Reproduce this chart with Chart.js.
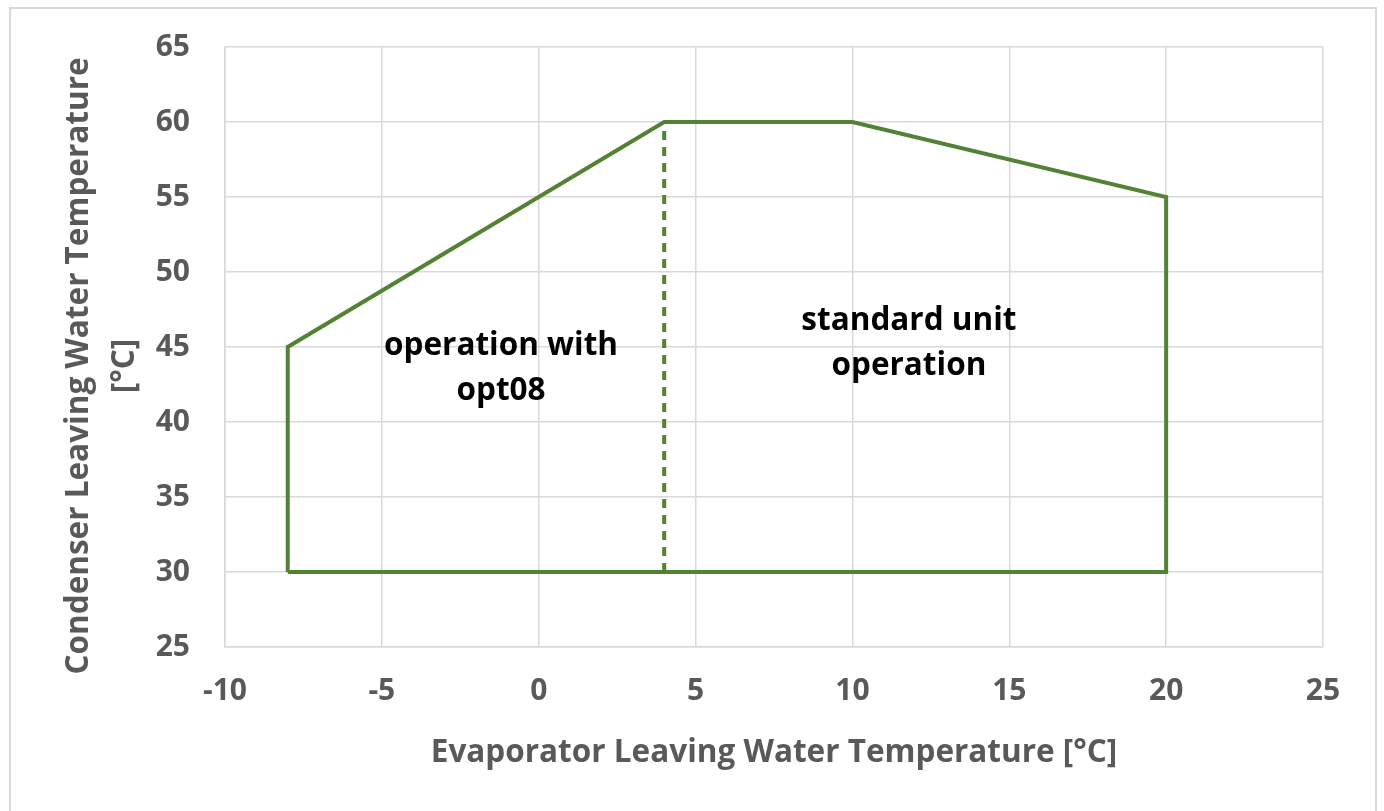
<!DOCTYPE html>
<html>
<head>
<meta charset="utf-8">
<script src="https://cdn.jsdelivr.net/npm/chart.js@4.4.1/dist/chart.umd.min.js"></script>
<style>
  html, body { margin: 0; padding: 0; background: #fff; }
  #frame {
    position: absolute; left: 9px; top: 7px; width: 1368px; height: 820px;
    border: 2px solid #d9d9d9; box-sizing: border-box;
  }
  #wrap { position: absolute; left: 0; top: 0; width: 1384px; height: 811px; }
</style>
</head>
<body>
<div id="frame"></div>
<div id="wrap"><canvas id="envelopeChart" width="1384" height="811"></canvas></div>
<script>
// operating envelope outline
const envelopeX = [-8, -8, 4, 10, 20, 20, -8];
const envelopeY = [30, 45, 60, 60, 55, 30, 30];
// dashed divider between opt08 and standard area
const dividerX = [4, 4];
const dividerY = [30, 60];

const xTicks = [-10, -5, 0, 5, 10, 15, 20, 25];
const yTicks = [25, 30, 35, 40, 45, 50, 55, 60, 65];

const xTitle = "Evaporator Leaving Water Temperature [°C]";
const yTitle = ["Condenser Leaving Water Temperature", "[°C]"];
const areaLabels = [["operation with", "opt08"], ["standard unit", "operation"]];

const green = "#548235";
const grey = "#595959";
const gridGrey = "#d9d9d9";
const font = "'Open Sans', sans-serif";

function toPoints(xs, ys) {
  return xs.map((x, i) => ({ x: x, y: ys[i] }));
}

// axis titles and area labels
const textPlugin = {
  id: "textPlugin",
  afterDraw(chart) {
    const ctx = chart.ctx;
    const xs = chart.scales.x, ys = chart.scales.y;
    ctx.save();

    ctx.fillStyle = grey;
    ctx.font = "bold 31.5px " + font;
    ctx.textAlign = "center";
    ctx.textBaseline = "alphabetic";
    ctx.fillText(xTitle, (chart.chartArea.left + chart.chartArea.right) / 2, 762);

    ctx.save();
    ctx.translate(0, 366);
    ctx.rotate(-Math.PI / 2);
    ctx.fillText(yTitle[0], 0, 88);
    ctx.fillText(yTitle[1], 0, 134);
    ctx.restore();

    ctx.fillStyle = "#000";
    ctx.font = "bold 31.5px " + font;
    const spots = [[-1.2, 43.8], [11.8, 45.5]];
    areaLabels.forEach((lines, i) => {
      const cx = xs.getPixelForValue(spots[i][0]);
      const cy = ys.getPixelForValue(spots[i][1]);
      ctx.fillText(lines[0], cx, cy - 10);
      ctx.fillText(lines[1], cx, cy + 35);
    });
    ctx.restore();
  }
};

new Chart(document.getElementById("envelopeChart"), {
  type: "scatter",
  data: {
    datasets: [
      {
        data: toPoints(envelopeX, envelopeY),
        showLine: true,
        borderColor: green,
        borderWidth: 4,
        pointRadius: 0,
        fill: false,
        tension: 0,
      },
      {
        data: toPoints(dividerX, dividerY),
        showLine: true,
        borderColor: green,
        borderWidth: 4,
        borderDash: [9, 7],
        pointRadius: 0,
        fill: false,
      },
    ],
  },
  options: {
    responsive: false,
    animation: false,
    layout: { padding: { left: 0, right: 61, top: 47, bottom: 0 } },
    plugins: {
      legend: { display: false },
      tooltip: { enabled: false },
    },
    scales: {
      x: {
        type: "linear",
        min: -10,
        max: 25,
        afterBuildTicks: (s) => { s.ticks = xTicks.map((v) => ({ value: v })); },
        afterFit: (s) => { s.height = 164; },
        grid: { color: gridGrey, lineWidth: 1.5, drawTicks: false },
        border: { color: gridGrey, width: 1.5 },
        ticks: { color: grey, font: { family: font, size: 30, weight: "bold" }, padding: 26 },
      },
      y: {
        type: "linear",
        min: 25,
        max: 65,
        afterBuildTicks: (s) => { s.ticks = yTicks.map((v) => ({ value: v })); },
        afterFit: (s) => { s.width = 225; },
        grid: { color: gridGrey, lineWidth: 1.5, drawTicks: true, tickLength: 35, tickColor: "rgba(0,0,0,0)" },
        border: { color: gridGrey, width: 1.5 },
        ticks: { color: grey, font: { family: font, size: 30, weight: "bold" }, padding: 0 },
      },
    },
  },
  plugins: [textPlugin],
});
</script>
</body>
</html>
